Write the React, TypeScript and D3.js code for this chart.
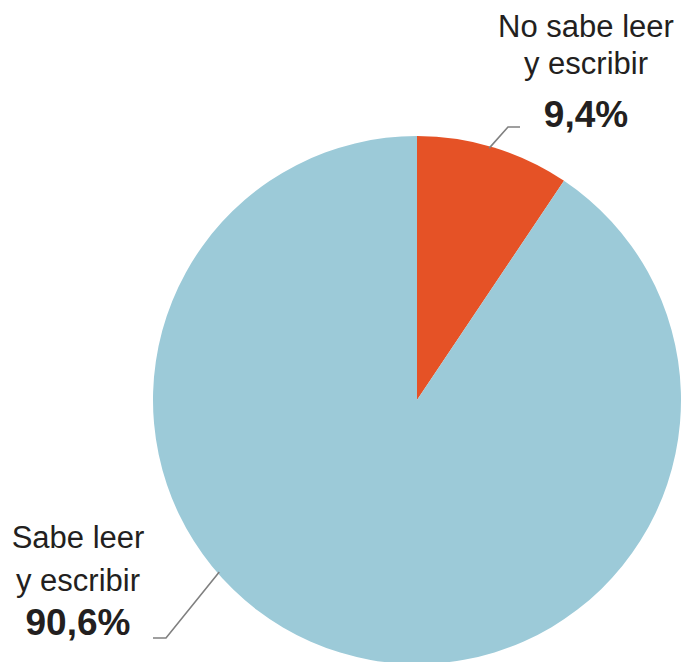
import React from 'react';
import * as d3 from 'd3';

// shares of population (%)
const categories = ['No sabe leer y escribir', 'Sabe leer y escribir'];
const values = [9.4, 90.6];
const labelLines = [['No sabe leer', 'y escribir'], ['Sabe leer', 'y escribir']];
const valueLabels = ['9,4%', '90,6%'];
const colors = ['#e55226', '#9ccad8'];

const width = 683;
const height = 662;
const cx = 417;
const cy = 400;
const radius = 264;

// label layout per slice: leader angle (deg from top), text anchor point, elbow
const labelLayout = [
  { angle: 16, elbow: [508, 127], end: [520, 127], x: 586, lines: [37, 74], value: 127 },
  { angle: 229, elbow: [166, 638], end: [153, 638], x: 78, lines: [548, 591], value: 635 },
];

const App: React.FC = () => {
  const pie = d3.pie<number>().sort(null).value(d => d);
  const arcs = pie(values);
  const arc = d3.arc<d3.PieArcDatum<number>>().innerRadius(0).outerRadius(radius);

  return (
    <svg
      width={width}
      height={height}
      style={{ position: 'absolute', left: 0, top: 0 }}
      fontFamily="'Liberation Sans', Arial, sans-serif"
    >
      <g transform={`translate(${cx},${cy})`}>
        {arcs.map((a, i) => (
          <path key={categories[i]} d={arc(a) as string} fill={colors[i]} />
        ))}
      </g>
      {labelLayout.map((l, i) => {
        const t = (l.angle * Math.PI) / 180;
        const r = radius - 2;
        const sx = cx + r * Math.sin(t);
        const sy = cy - r * Math.cos(t);
        const line = d3.line()([[sx, sy], l.elbow as [number, number], l.end as [number, number]]);
        return (
          <g key={categories[i]}>
            <path d={line as string} fill="none" stroke="#808080" strokeWidth={1.6} />
            {labelLines[i].map((txt, j) => (
              <text key={j} x={l.x} y={l.lines[j]} textAnchor="middle" fontSize={31} fill="#231f20">
                {txt}
              </text>
            ))}
            <text x={l.x} y={l.value} textAnchor="middle" fontSize={37} fontWeight="bold" fill="#231f20">
              {valueLabels[i]}
            </text>
          </g>
        );
      })}
    </svg>
  );
};

export default App;
